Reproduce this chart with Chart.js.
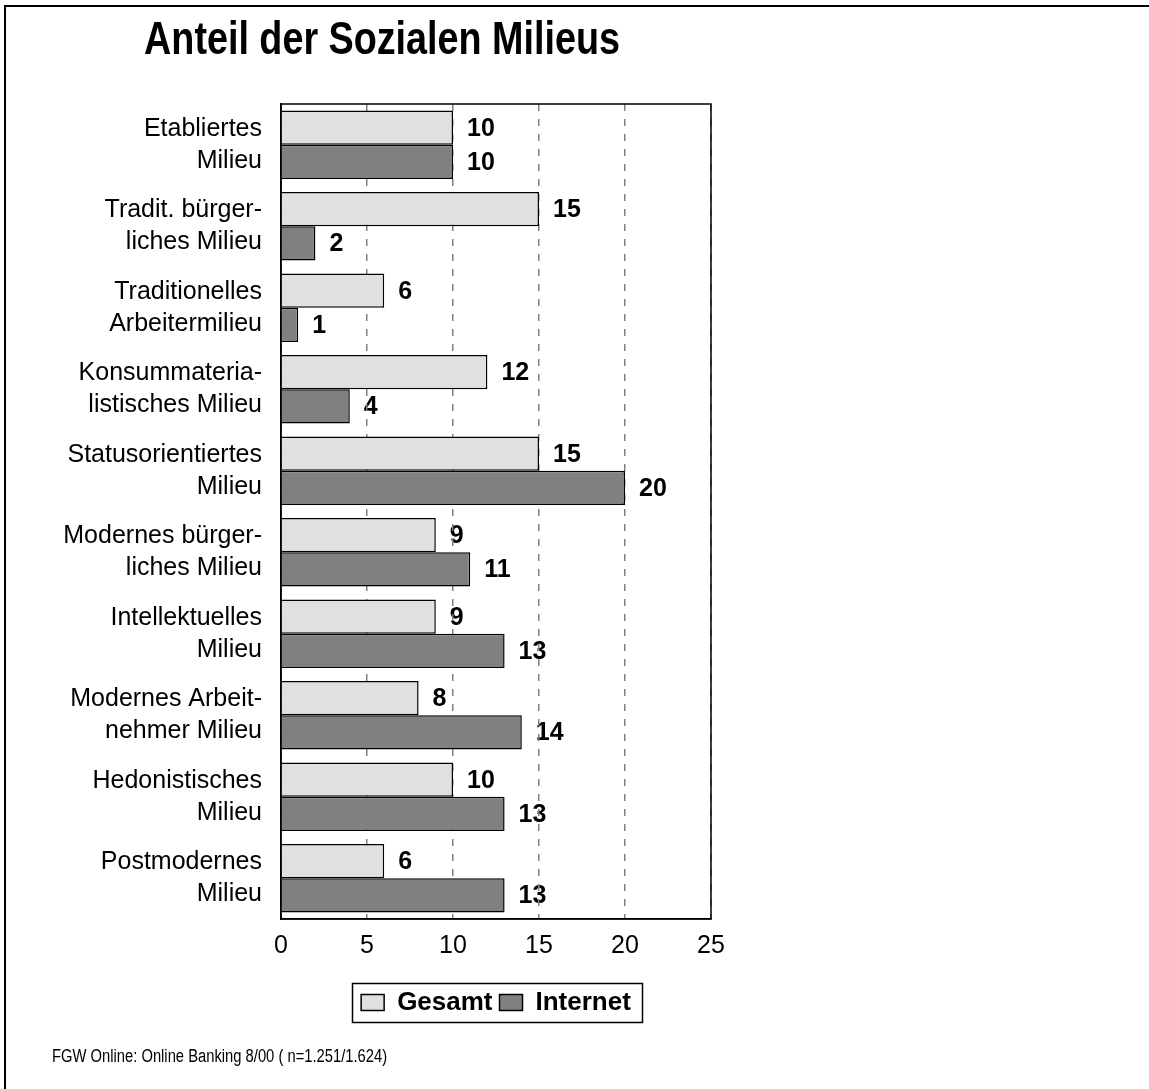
<!DOCTYPE html>
<html>
<head>
<meta charset="utf-8">
<script src="https://cdn.jsdelivr.net/npm/chart.js@4"></script>
<style>
html,body{margin:0;padding:0;background:#fff;}
#wrap{position:relative;width:1149px;height:1089px;}
canvas{display:block;}
</style>
</head>
<body>
<div id="wrap"><canvas id="c" width="1149" height="1089" style="width:1149px;height:1089px"></canvas></div>
<script>
const chartTitle = "Anteil der Sozialen Milieus";
const sourceNote = "FGW Online: Online Banking 8/00 ( n=1.251/1.624)";
const categories = [
  ["Etabliertes", "Milieu"],
  ["Tradit. bürger-", "liches Milieu"],
  ["Traditionelles", "Arbeitermilieu"],
  ["Konsummateria-", "listisches Milieu"],
  ["Statusorientiertes", "Milieu"],
  ["Modernes bürger-", "liches Milieu"],
  ["Intellektuelles", "Milieu"],
  ["Modernes Arbeit-", "nehmer Milieu"],
  ["Hedonistisches", "Milieu"],
  ["Postmodernes", "Milieu"]
];
const seriesNames = ["Gesamt", "Internet"];
const gesamt = [10, 15, 6, 12, 15, 9, 9, 8, 10, 6];
const internet = [10, 2, 1, 4, 20, 11, 13, 14, 13, 13];
const xTicks = [0, 5, 10, 15, 20, 25];

const SANS = "'Liberation Sans', Arial, Helvetica, sans-serif";

Chart.defaults.font.family = SANS;
Chart.defaults.color = '#000';

// draws text horizontally condensed (the original uses a narrow typeface)
function condensedText(ctx, text, x, y, font, squeeze, align) {
  ctx.save();
  ctx.font = font;
  ctx.fillStyle = '#000';
  ctx.textBaseline = 'middle';
  ctx.textAlign = align;
  ctx.translate(x, y);
  ctx.scale(squeeze, 1);
  ctx.fillText(text, 0, 0);
  ctx.restore();
}

const decorations = {
  id: 'decorations',
  beforeDraw(chart) {
    const ctx = chart.ctx;
    ctx.save();
    ctx.fillStyle = '#fff';
    ctx.fillRect(0, 0, chart.width, chart.height);
    // outer frame (left and top edges)
    ctx.strokeStyle = '#000';
    ctx.lineWidth = 2;
    ctx.beginPath();
    ctx.moveTo(5, chart.height);
    ctx.lineTo(5, 6);
    ctx.lineTo(chart.width, 6);
    ctx.stroke();
    // value labels (drawn under the dashed grid, as in the original)
    ctx.font = 'bold 25px ' + SANS;
    ctx.fillStyle = '#000';
    ctx.textAlign = 'left';
    ctx.textBaseline = 'middle';
    chart.data.datasets.forEach((ds, di) => {
      const meta = chart.getDatasetMeta(di);
      meta.data.forEach((el, i) => {
        ctx.fillText(String(ds.data[i]), el.x + 14, el.y + 1);
      });
    });
    ctx.restore();
  },
  afterDatasetsDraw(chart) {
    const a = chart.chartArea;
    const ctx = chart.ctx;
    ctx.save();
    ctx.strokeStyle = '#000';
    ctx.lineWidth = 1.5;
    ctx.strokeRect(a.left, a.top, a.right - a.left, a.bottom - a.top);
    ctx.restore();
  },
  afterDraw(chart) {
    const ctx = chart.ctx;
    // title and source note
    condensedText(ctx, chartTitle, 382, 41, 'bold 46px ' + SANS, 0.82, 'center');
    condensedText(ctx, sourceNote, 52, 1057, '18px ' + SANS, 0.82, 'left');
    // legend frame
    const lg = chart.legend;
    if (!lg || !lg.legendHitBoxes || !lg.legendHitBoxes.length) return;
    const hb = lg.legendHitBoxes;
    let l = Infinity, r = -Infinity, cy = 0;
    hb.forEach(b => { l = Math.min(l, b.left); r = Math.max(r, b.left + b.width); cy = b.top + b.height / 2; });
    ctx.save();
    ctx.strokeStyle = '#000';
    ctx.lineWidth = 1.5;
    ctx.strokeRect(Math.round(l - 9) + 0.5, Math.round(cy - 19.5) + 0.5, Math.round(r - l + 20), 39);
    ctx.restore();
  }
};

new Chart(document.getElementById('c'), {
  type: 'bar',
  data: {
    labels: categories,
    datasets: [
      { label: seriesNames[0], data: gesamt, backgroundColor: '#e0e0e0', borderColor: '#000', borderWidth: 1.5, barPercentage: 1, categoryPercentage: 0.84 },
      { label: seriesNames[1], data: internet, backgroundColor: '#808080', borderColor: '#000', borderWidth: 1.5, barPercentage: 1, categoryPercentage: 0.84 }
    ]
  },
  options: {
    indexAxis: 'y',
    responsive: false,
    animation: false,
    devicePixelRatio: 1,
    layout: { padding: { left: 53, right: 438, top: 104, bottom: 63.5 } },
    scales: {
      x: {
        type: 'linear',
        min: 0, max: 25,
        afterBuildTicks(s) { s.ticks = xTicks.map(v => ({ value: v })); },
        afterFit(s) { s.height = 63.5; },
        ticks: { font: { size: 25 }, color: '#000', padding: 12 },
        grid: { color: '#808080', lineWidth: 1.5, drawTicks: false },
        border: { display: true, color: '#000', width: 1.5, dash: [7, 8] }
      },
      y: {
        type: 'category',
        afterFit(s) { s.width = 228; },
        ticks: { font: { size: 25, lineHeight: 1.27 }, color: '#000', padding: 19 },
        grid: { display: false, drawTicks: false },
        border: { display: true, color: '#000', width: 1.5 }
      }
    },
    plugins: {
      tooltip: { enabled: false },
      title: { display: false },
      legend: {
        display: true,
        position: 'bottom',
        fullSize: false,
        labels: {
          boxWidth: 23, boxHeight: 16,
          padding: 7,
          color: '#000',
          font: { size: 26, weight: 'bold' }
        }
      }
    }
  },
  plugins: [decorations]
});
</script>
</body>
</html>
